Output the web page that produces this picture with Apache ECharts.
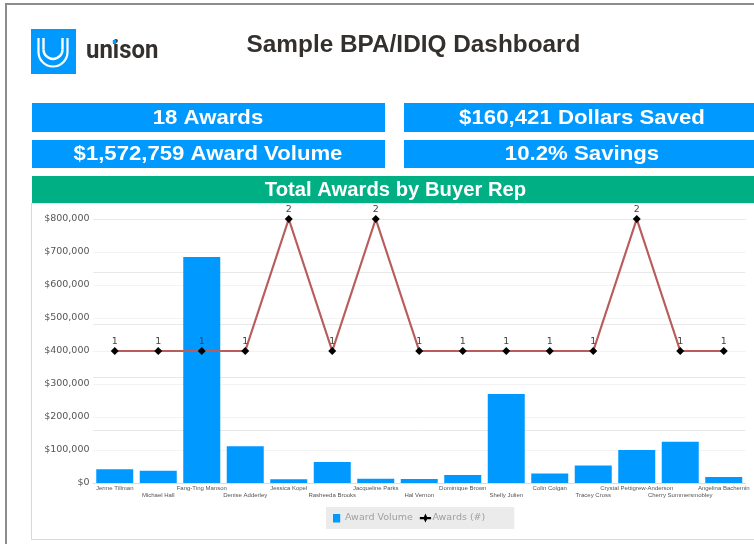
<!DOCTYPE html>
<html><head><meta charset="utf-8">
<style>html,body{margin:0;padding:0;background:#fff}#c{width:754px;height:544px}</style>
<script src="https://cdn.jsdelivr.net/npm/echarts@6/dist/echarts.min.js"></script>
</head><body><div id="c"></div>
<script>
const buyers = ['Jerme Tillman','Michael Hall','Fang-Ting Manson','Denise Adderley','Jessica Kopel','Rasheeda Brooks','Jacqueline Parks','Hal Vernon','Dominique Brown','Shelly Julien','Colin Colgan','Tracey Cross','Crystal Pettigrew-Anderson','Cherry Summersmobley','Angelina Bachemin'];
const awardVolume = [42000,37000,685000,111000,11000,64000,13000,12000,24000,270000,29000,53000,100000,125000,18000];
const awardCount = [1,1,1,1,2,1,2,1,1,1,1,1,2,1,1];
const pageTitle = 'Sample BPA/IDIQ Dashboard';
const kpiLeft = ['18 Awards','$1,572,759 Award Volume'];
const kpiRight = ['$160,421 Dollars Saved','10.2% Savings'];
const sectionTitle = 'Total Awards by Buyer Rep';

const BLUE='#0099ff', GREEN='#00b084';
function banner(x,y,w,h,fill,text,size,tx,sx){
  return [
    {type:'rect',shape:{x,y,width:w,height:h},style:{fill},silent:true},
    {type:'text',x:tx,y:y+h/2+0.5,scaleX:sx,style:{text,fill:'#fff',font:'bold '+size+'px "Liberation Sans",Arial,sans-serif',textAlign:'center',textVerticalAlign:'middle'},silent:true}
  ];
}
function logoU(cx,top,cy,r,lw){
  const st={stroke:'#fff',lineWidth:lw,fill:'none'};
  return [
    {type:'line',shape:{x1:cx-r,y1:top,x2:cx-r,y2:cy},style:st,silent:true},
    {type:'line',shape:{x1:cx+r,y1:top,x2:cx+r,y2:cy},style:st,silent:true},
    {type:'arc',shape:{cx,cy,r,startAngle:0,endAngle:Math.PI,clockwise:true},style:st,silent:true}
  ];
}
const graphic = [
  {type:'rect',shape:{x:6,y:4,width:760,height:560},style:{fill:'#fff',stroke:'#8c8c8c',lineWidth:2},silent:true},
  {type:'rect',shape:{x:31.5,y:203,width:740,height:336.5},style:{fill:'#fff',stroke:'#d8d8d8',lineWidth:1},silent:true},
  {type:'rect',shape:{x:31,y:29,width:45,height:45},style:{fill:BLUE},silent:true},
  ...logoU(53,38,52,14.5,2.2),
  ...logoU(53,38,49.5,9.5,2.4),
  {type:'text',x:86,y:51,scaleX:0.92,style:{text:'unison',fill:'#33302e',font:'bold 26px Roboto,sans-serif',textAlign:'left',textVerticalAlign:'middle'},silent:true},
  {type:'rect',shape:{x:112.8,y:40,width:3.4,height:4},style:{fill:BLUE},silent:true,z:5},
  {type:'text',x:413.5,y:45.5,scaleX:1.015,style:{text:pageTitle,fill:'#33302e',font:'bold 24px "Liberation Sans",Arial,sans-serif',textAlign:'center',textVerticalAlign:'middle'},silent:true},
  ...banner(32,103,353,29,BLUE,kpiLeft[0],21,208,1.055),
  ...banner(32,140,353,28,BLUE,kpiLeft[1],21,208,1.055),
  ...banner(404,103,360,29,BLUE,kpiRight[0],21,582,1.058),
  ...banner(404,140,360,28,BLUE,kpiRight[1],21,582,1.058),
  ...banner(32,176,740,27,GREEN,sectionTitle,20,395.5,1.012)
];

const chart = echarts.init(document.getElementById('c'),null,{renderer:'canvas'});
chart.setOption({
  animation:false,
  backgroundColor:'#fff',
  graphic,
  grid:{left:93,top:219,width:652.5,height:264,containLabel:false,show:true,borderColor:'#e4e4e4',borderWidth:1,backgroundColor:'transparent'},
  legend:{
    left:326,top:507,padding:[6,29,6,7],itemGap:7,itemWidth:12,itemHeight:9,
    backgroundColor:'#ebebeb',
    textStyle:{color:'#a0a0a0',fontSize:9.5,fontFamily:'"DejaVu Sans",sans-serif',padding:[0,0,0,-4]},
    data:[
      {name:'Award Volume',icon:'path://M0 5h72v85H0z M100 0z'},
      {name:'Awards (#)',icon:'path://M0 40H36L50 10 64 40H100V60H64L50 90 36 60H0z',itemStyle:{color:'#000'}}
    ]
  },
  xAxis:{
    type:'category',data:buyers,
    axisTick:{show:false},
    axisLine:{lineStyle:{color:'#dcdcdc'}},
    axisLabel:{interval:0,margin:2,color:'#555',fontSize:6,lineHeight:7,fontFamily:'"Liberation Sans",Arial,sans-serif',hideOverlap:false,
      formatter:(v,i)=> i%2 ? '\n'+v : v}
  },
  yAxis:[
    {type:'value',min:0,max:800000,interval:100000,
      axisLine:{show:false},axisTick:{show:false},
      splitLine:{lineStyle:{color:'#f3f3f3'}},
      axisLabel:{margin:3.5,padding:[2,0,0,0],color:'#555',fontSize:9.5,fontFamily:'"DejaVu Sans",sans-serif',
        formatter:v=>'$'+v.toLocaleString('en-US')}},
    {type:'value',min:0,max:2,interval:0.4,position:'right',
      axisLine:{show:false},axisTick:{show:false},axisLabel:{show:false},
      splitLine:{show:true,lineStyle:{color:'#e8e8e8'}}}
  ],
  series:[
    {name:'Award Volume',type:'bar',data:awardVolume,barWidth:37,itemStyle:{color:BLUE},z:2},
    {name:'Awards (#)',type:'line',yAxisIndex:1,data:awardCount,
      symbol:'diamond',symbolSize:8,showAllSymbol:true,
      itemStyle:{color:'#000'},
      lineStyle:{color:'#b85c5c',width:2.2},
      label:{show:true,position:'top',distance:0,color:'#444',fontSize:9.5,fontFamily:'"DejaVu Sans",sans-serif'},
      z:3}
  ]
});
</script></body></html>
